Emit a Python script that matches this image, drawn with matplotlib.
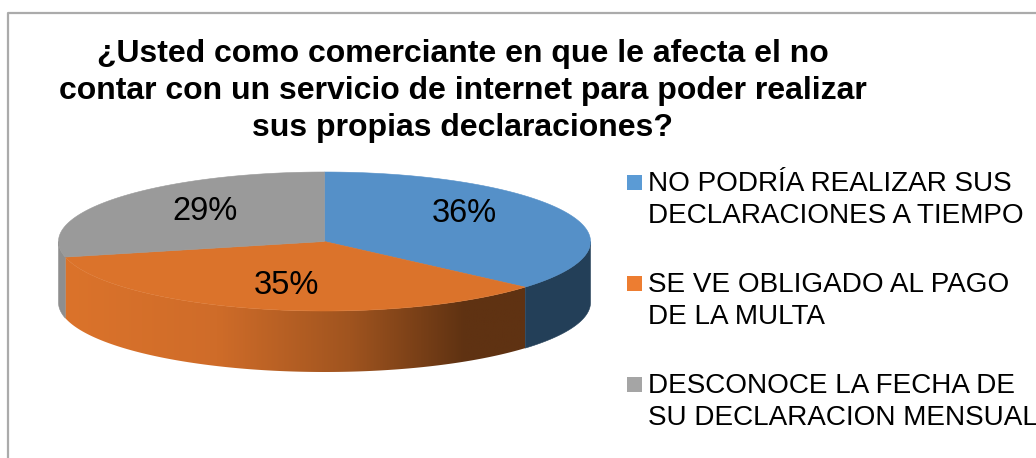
import numpy as np
import matplotlib
matplotlib.use('Agg')
import matplotlib.pyplot as plt
from matplotlib.colors import LinearSegmentedColormap
from matplotlib.patches import Polygon, Rectangle

# ─── Data ─────────────────────────────────────────────────────────────────────
TITLE = ('¿Usted como comerciante en que le afecta el no\n'
         'contar con un servicio de internet para poder realizar\n'
         'sus propias declaraciones?')
categories = ['NO PODRÍA REALIZAR SUS\nDECLARACIONES A TIEMPO',
              'SE VE OBLIGADO AL PAGO\nDE LA MULTA',
              'DESCONOCE LA FECHA DE\nSU DECLARACION MENSUAL']
values = [36.4, 35.0, 28.6]   # read from the slice edges, labels show them rounded

# ─── Style ────────────────────────────────────────────────────────────────────
top_colors = ['#5590c8', '#db732b', '#9a9a9a']
wall_colors = ['#233f58', None, '#8e8e8e']
legend_colors = ['#5b9bd5', '#ed7d31', '#a5a5a5']
CX, CY, RX, RY, DEPTH = 324.5, 241.5, 266, 69.5, 61

plt.rcParams['font.family'] = ['Liberation Sans', 'DejaVu Sans']

fig = plt.figure(figsize=(10.36, 4.58), dpi=100)
ax = fig.add_axes([0, 0, 1, 1])
ax.set_xlim(0, 1036)
ax.set_ylim(458, 0)
ax.axis('off')


def rim(a0, a1, drop=0.0):
    # angles run clockwise from 12 o'clock, y axis points down
    t = np.radians(np.linspace(a0, a1, 200))
    return np.column_stack([CX + RX * np.sin(t), CY + drop - RY * np.cos(t)])


# chart frame, open to the right and bottom of the crop
ax.plot([8, 8, 1036], [458, 13, 13], color='#ababab', lw=1.6, zorder=1)

edges = np.cumsum([0] + values) / sum(values) * 360

# side walls first (only the front half of the ellipse shows)
for i, (a0, a1) in enumerate(zip(edges[:-1], edges[1:])):
    lo, hi = max(a0, 90), min(a1, 270)
    if lo >= hi:
        continue
    wall = np.vstack([rim(lo, hi), rim(lo, hi, DEPTH)[::-1]])
    if wall_colors[i] is not None:
        ax.add_patch(Polygon(wall, fc=wall_colors[i], ec=wall_colors[i], lw=0.4, zorder=2))
    else:
        patch = Polygon(wall, fc='none', ec='none', zorder=2)
        ax.add_patch(patch)
        cmap = LinearSegmentedColormap.from_list('wall', [
            (0.0, '#db732b'), (0.33, '#cf6c29'), (0.62, '#a0541f'),
            (0.87, '#5f3212'), (1.0, '#5f3212')])
        img = ax.imshow(np.linspace(0, 1, 256)[None, :], cmap=cmap, aspect='auto',
                        extent=[wall[:, 0].min(), wall[:, 0].max(), 380, 240], zorder=2)
        img.set_clip_path(patch)
ax.set_xlim(0, 1036)
ax.set_ylim(458, 0)

# top faces
for i, (a0, a1) in enumerate(zip(edges[:-1], edges[1:])):
    face = np.vstack([[CX, CY], rim(a0, a1)])
    ax.add_patch(Polygon(face, fc=top_colors[i], ec=top_colors[i], lw=0.4, zorder=3))

# percentage labels
label_pos = [(464, 214), (286, 286), (205, 211)]
for v, (lx, ly) in zip(values, label_pos):
    ax.text(lx, ly, f'{v:.0f}%', fontsize=23.5, ha='center', va='center', color='black', zorder=4)

ax.text(463, 91, TITLE, fontsize=23.05, fontweight='bold', ha='center', va='center',
        linespacing=1.32, color='black', zorder=4)

# legend
legend_y = [182.5, 283.5, 384.5]
for name, c, y in zip(categories, legend_colors, legend_y):
    ax.add_patch(Rectangle((627, y - 7.5), 15, 15, fc=c, ec='none', zorder=4))
    ax.text(648, y + 17.5, name, fontsize=20.08, ha='left', va='center', linespacing=1.32,
            color='black', zorder=4, clip_on=False)

fig.savefig('out.png', dpi=100)
plt.close(fig)
